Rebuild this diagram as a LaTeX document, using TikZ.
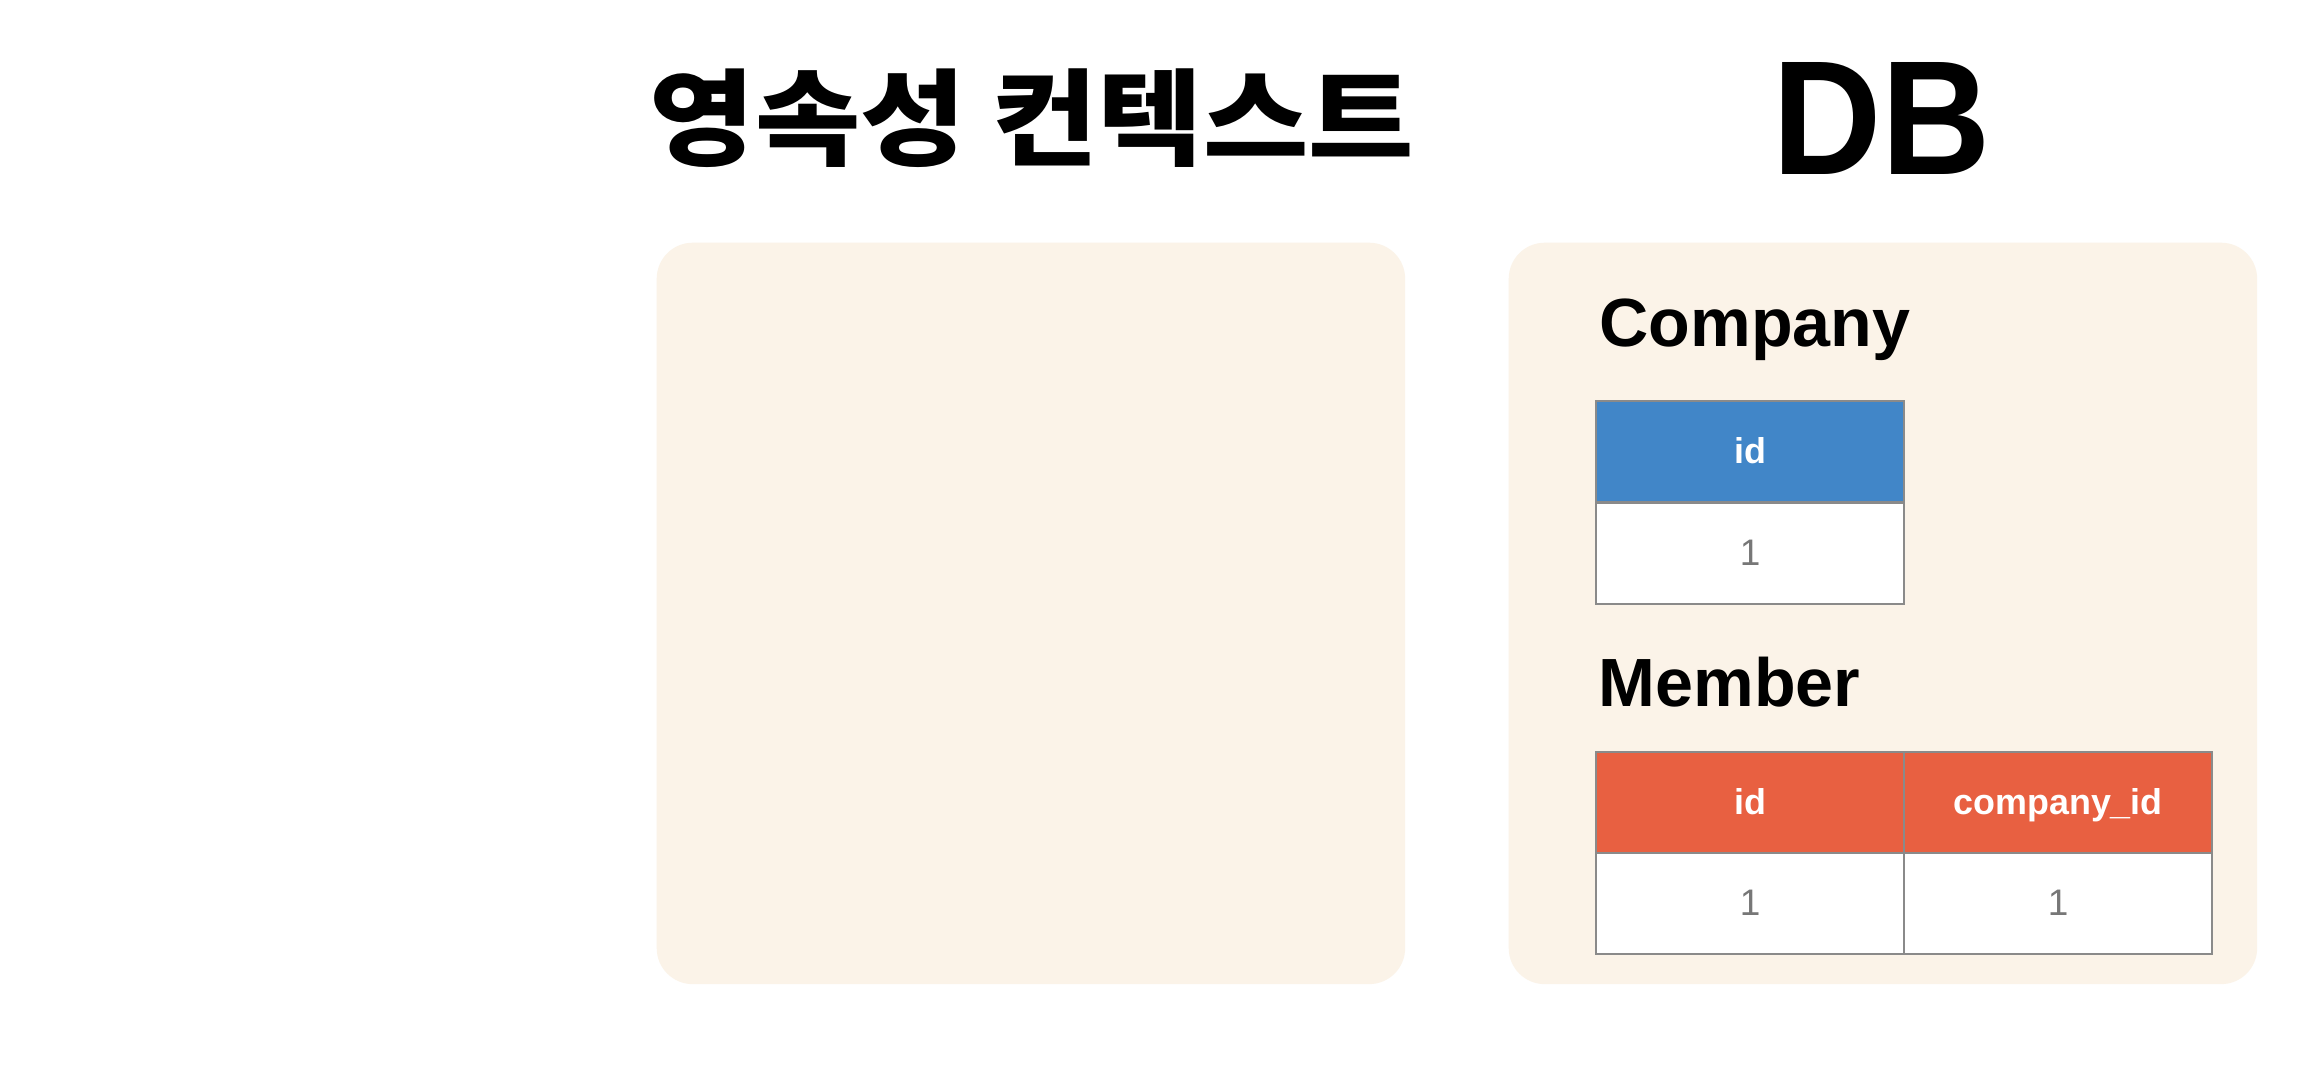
\documentclass[tikz,border=0pt]{standalone}
\usepackage{fontspec}
\setmainfont{Liberation Sans}
\newfontfamily\kr{Noto Sans CJK KR}
\definecolor{boxbg}{HTML}{FBF3E8}
\definecolor{hblue}{HTML}{4186C8}
\definecolor{hred}{HTML}{E86041}
\definecolor{cellline}{HTML}{8A8A8A}
\definecolor{valgray}{HTML}{777777}
\begin{document}
\begin{tikzpicture}[x=0.01cm,y=-0.01cm,
  panel/.style={fill=boxbg, draw=none, rounded corners=0.36cm, minimum width=7.48cm, minimum height=7.41cm, anchor=north west, inner sep=0pt},
  cell/.style={draw=cellline, line width=0.6pt, minimum width=3.08cm, minimum height=1.01cm, inner sep=0pt, anchor=north west, text height=0.88em, text depth=0.2em},
  hcell/.style={cell, text=white, font=\fontsize{10.2pt}{12pt}\selectfont\bfseries},
  vcell/.style={cell, fill=white, text=valgray, font=\fontsize{10.5pt}{12pt}\selectfont},
  tname/.style={anchor=base west, inner sep=0pt, font=\fontsize{19.4pt}{22pt}\selectfont\bfseries}
]
\useasboundingbox[fill=white] (0,0) rectangle (2300,1088);
% panels
\node[panel] (ctx) at (656,242) {};
\node[panel] (dbpanel) at (1508,242) {};
% titles
\node[font=\kr\bfseries\fontsize{29.9pt}{32pt}\selectfont, inner sep=0pt, xscale=1.09] (title) at (1032,118) {영속성 컨텍스트};
\node[font=\bfseries\fontsize{46.3pt}{50pt}\selectfont, inner sep=0pt, xscale=0.93] (db) at (1882,118) {DB};
% Company table
\node[tname] (company) at (1599,346) {Company};
\node[hcell, fill=hblue] (cid) at (1595,400) {id};
\node[vcell] (cidv) at (1595,502) {1};
% Member table
\node[tname] (member) at (1598,706) {Member};
\node[hcell, fill=hred] (mid) at (1595,751) {id};
\node[hcell, fill=hred] (mcid) at (1903,751) {company\_id};
\node[vcell] (midv) at (1595,852) {1};
\node[vcell] (mcidv) at (1903,852) {1};
\end{tikzpicture}
\end{document}
